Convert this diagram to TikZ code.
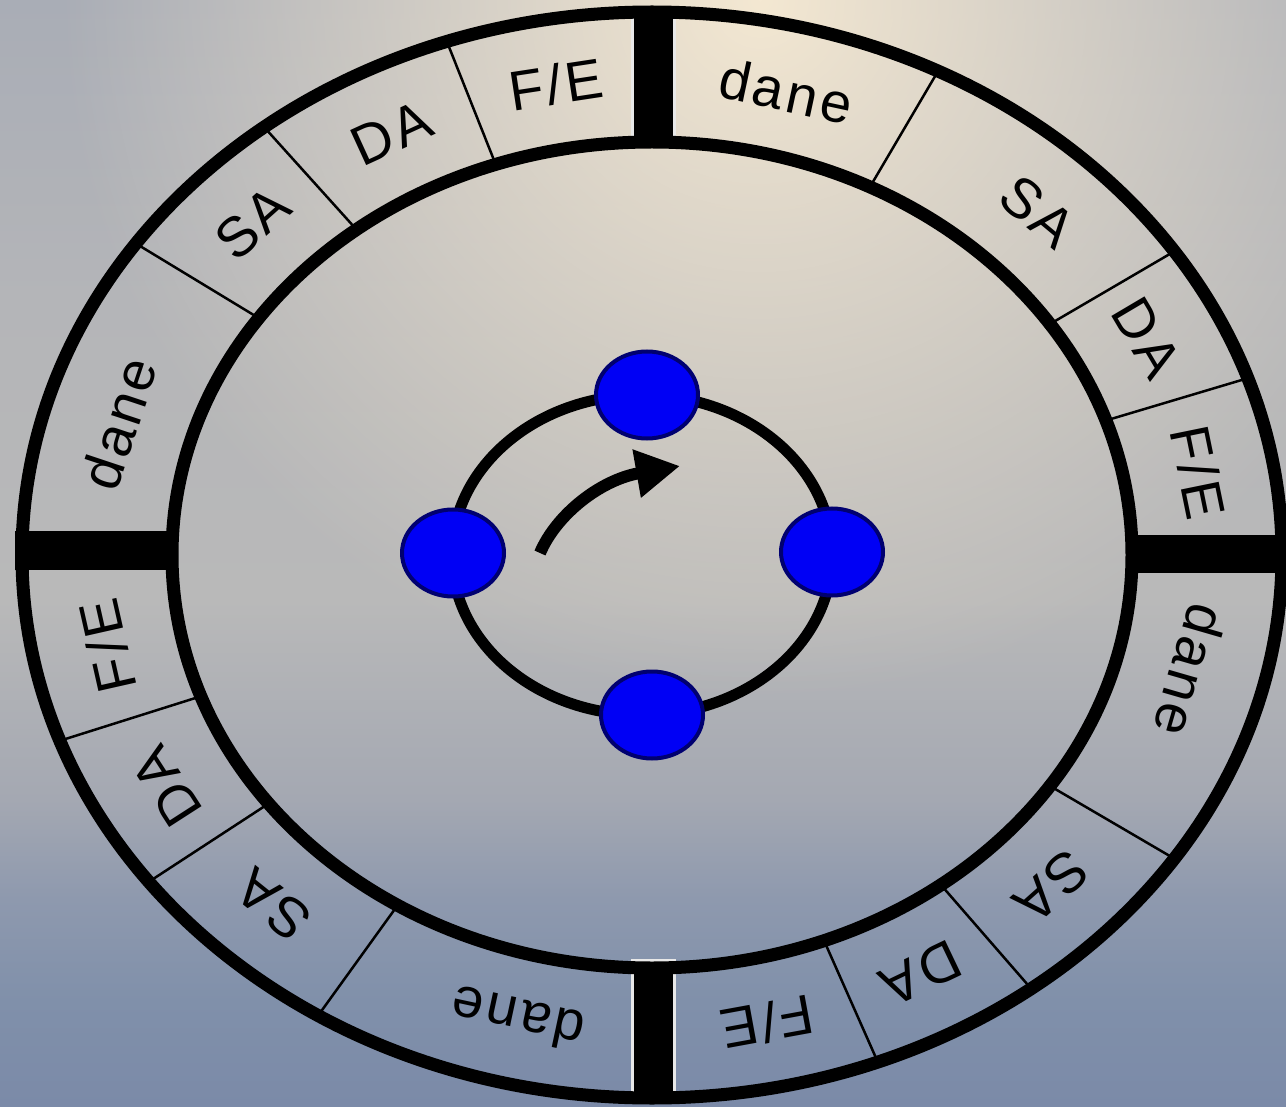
\documentclass[tikz,border=0pt]{standalone}
\usepackage{fontspec}
\setmainfont{Liberation Sans}
\newfontfamily\ringfont{Liberation Sans}[LetterSpace=6]
\usetikzlibrary{arrows.meta, shapes.geometric, fadings}

\definecolor{bgcream}{HTML}{F4E8D2}
\definecolor{bgtop}{HTML}{A9ADB6}
\definecolor{bgpale}{HTML}{B4B5B8}
\definecolor{bgmid}{HTML}{B9B9B9}
\definecolor{bgslate}{HTML}{A4A8B2}
\definecolor{bgsteel}{HTML}{8E99AE}
\definecolor{bgdusk}{HTML}{8090AA}
\definecolor{bgblue}{HTML}{7B8AA8}
\definecolor{stationblue}{HTML}{0000F5}
\definecolor{stationrim}{HTML}{000070}

% 25bp = bottom edge, 75bp = top edge
\pgfdeclareverticalshading{backdrop}{100bp}{%
  color(0bp)=(bgblue); color(25bp)=(bgblue); color(29.8bp)=(bgdusk);
  color(34.4bp)=(bgsteel); color(38.9bp)=(bgslate); color(47.9bp)=(bgmid);
  color(61.5bp)=(bgpale); color(75bp)=(bgtop); color(100bp)=(bgtop)}
\tikzfading[name=glow, inner color=transparent!0, outer color=transparent!100]

\begin{document}
\begin{tikzpicture}[x=1pt, y=1pt,
  ringline/.style={line width=13pt},
  divider/.style={line width=2.5pt},
  vbar/.style={fill=black, draw=white!82!gray, line width=3pt},
  hbar/.style={fill=black},
  lbl/.style={font=\ringfont\fontsize{56}{60}\selectfont, inner sep=0pt},
  station/.style={ellipse, fill=stationblue, draw=stationrim, line width=4pt,
                  minimum width=102pt, minimum height=87pt, inner sep=0pt},
  loopline/.style={line width=11pt},
  turn/.style={line width=12pt, -{Triangle[length=44pt, width=46pt]}}
]
\useasboundingbox (0,0) rectangle (1286,-1107);

% backdrop
\begin{scope}
  \clip (0,0) rectangle (1286,-1107);
  \shade[shading=backdrop] (0,0) rectangle (1286,-1107);
  \fill[bgcream, path fading=glow] (760,0) circle [radius=700];
\end{scope}

\coordinate (C) at (652,-555);

% frame segments
\begin{scope}[shift={(C)}]
  \foreach \a in {63,34,19,-34,-53,-69,238,217,200,145,128,109}
    \draw[divider] ({480*cos(\a)},{413*sin(\a)}) -- ({630*cos(\a)},{543*sin(\a)});

  \foreach \t/\txt [count=\i] in {76/dane, 46/SA, 27/DA, 10/{F/E},
                                  -14/dane, -44/SA, -61/DA, -78/{F/E},
                                  256/dane, 227/SA, 209/DA, 191/{F/E},
                                  164/dane, 136/SA, 118/DA, 100/{F/E}}
    \node[lbl, rotate={atan2(-478*cos(\t),555*sin(\t))}] (lab\i)
      at ({555*cos(\t)},{478*sin(\t)}) {\txt};
\end{scope}

\draw[vbar] (632,-10) rectangle (674,-145);
\draw[vbar] (632,-960) rectangle (674,-1100);
\fill[hbar] (15,-531) rectangle (175,-570);
\fill[hbar] (1128,-535) rectangle (1286,-573);

\draw[ringline] (C) ellipse [x radius=630, y radius=543];
\draw[ringline] (C) ellipse [x radius=480, y radius=413];

% stations on the ring
\draw[loopline] (642,-555) ellipse [x radius=190, y radius=160];
\node[station] (nTop) at (647,-395) {};
\node[station] (nLeft) at (453,-553) {};
\node[station] (nRight) at (832,-552) {};
\node[station] (nBottom) at (652,-715) {};

\coordinate (turnA) at (540,-553);
\coordinate (turnB) at (680,-466);
\draw[turn] (turnA) .. controls (556,-515) and (600,-480) .. (turnB);
\end{tikzpicture}
\end{document}
